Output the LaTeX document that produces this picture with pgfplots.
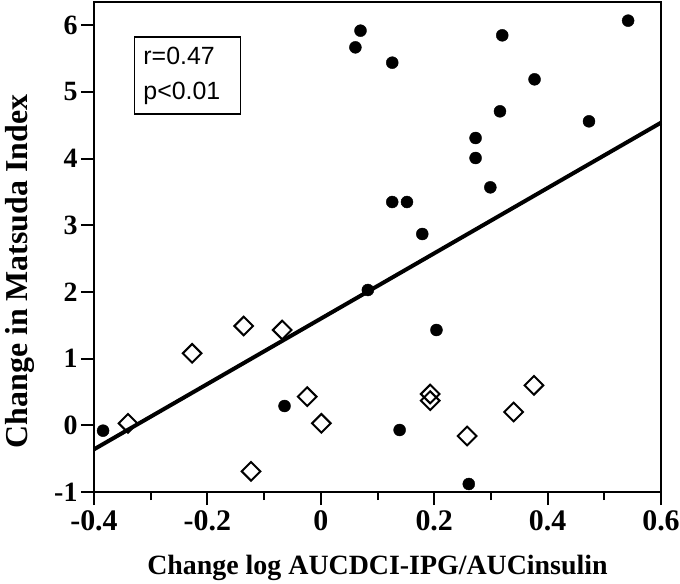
\documentclass[border=0pt]{standalone}
\usepackage{pgfplots}
\pgfplotsset{compat=1.18}
\usepackage{fontspec}
\setmainfont{Liberation Serif}
\setsansfont{Liberation Sans}
\begin{document}
\begin{tikzpicture}
\useasboundingbox (-94bp,-92bp) rectangle (586bp,492bp);
\begin{axis}[
  at={(0,0)}, anchor=south west,
  scale only axis, width=567bp, height=490bp,
  xmin=-0.4, xmax=0.6, ymin=-1, ymax=6.35,
  xtick={-0.4,-0.2,0,0.2,0.4,0.6},
  xticklabels={-0.4,-0.2,0,0.2,0.4,0.6},
  minor xtick={-0.3,-0.1,0.1,0.3,0.5},
  ytick={-1,0,1,2,3,4,5,6},
  yticklabels={-1,0,1,2,3,4,5,6},
  axis line style={line width=2bp},
  tick style={line width=2bp, black},
  tick align=outside,
  major tick length=13bp,
  minor tick length=8bp,
  xtick pos=bottom, ytick pos=left,
  x tick label style={font=\fontsize{30}{32}\selectfont\bfseries, yshift=-2bp},
  y tick label style={font=\fontsize{28}{30}\selectfont\bfseries, xshift=0bp},
  xlabel={Change log AUCDCI-IPG/AUCinsulin},
  ylabel={Change in Matsuda Index},
  xlabel style={font=\fontsize{28}{30}\selectfont\bfseries, at={(axis description cs:0.5,-0.155)}, anchor=center},
  ylabel style={font=\fontsize{32}{34}\selectfont\bfseries, inner sep=0pt, at={(axis description cs:-0.1305,0.45)}, anchor=center},
  clip=false,
]
\addplot[line width=4bp, black] coordinates {(-0.4,-0.36) (0.6,4.54)};
\addplot[only marks, mark=*, mark size=6bp, black] coordinates {
(0.542,6.07) (0.070,5.92) (0.061,5.67) (0.320,5.85) (0.126,5.44)
(0.377,5.19) (0.316,4.71) (0.473,4.56) (0.273,4.31) (0.273,4.01)
(0.299,3.57) (0.126,3.35) (0.152,3.35) (0.179,2.87) (0.083,2.03)
(0.204,1.43) (0.139,-0.07) (0.261,-0.88) (-0.384,-0.08) (-0.064,0.29)
};
\addplot[only marks, mark=square, mark size=6.6bp, mark options={rotate=45, line width=2bp, fill=white, draw=black}] coordinates {
(-0.340,0.03) (-0.227,1.08) (-0.136,1.49) (-0.068,1.43) (-0.024,0.43)
(0.001,0.03) (-0.123,-0.69) (0.193,0.47) (0.193,0.37) (0.258,-0.16)
(0.340,0.20) (0.376,0.60)
};
\node[draw, line width=1.5bp, anchor=north west, inner xsep=9bp, inner ysep=10bp,
  text width=88bp, align=left, font=\sffamily\fontsize{25}{35}\selectfont]
  at (axis cs:-0.33,5.84) {r=0.47\\p<0.01};
\end{axis}
\end{tikzpicture}
\end{document}
